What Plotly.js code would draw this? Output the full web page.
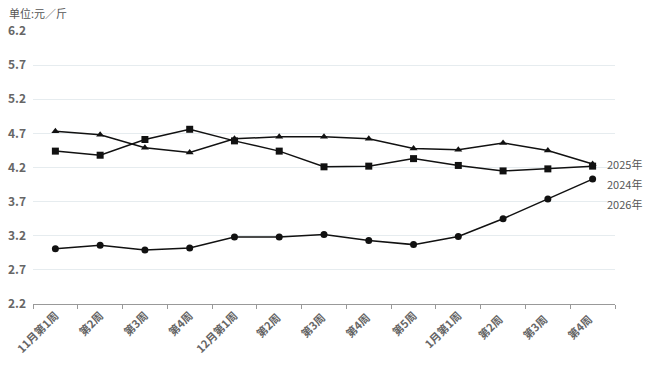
<!DOCTYPE html>
<html>
<head>
<meta charset="utf-8">
<script src="https://cdn.plot.ly/plotly-3.0.1.min.js"></script>
<style>html,body{margin:0;padding:0;background:#fff;}#chart{width:651px;height:365px;}</style>
</head>
<body>
<div id="chart"></div>
<script>
const categories = ["11月第1周","第2周","第3周","第4周","12月第1周","第2周 ","第3周 ","第4周 ","第5周","1月第1周","第2周  ","第3周  ","第4周  "];
const seriesNames = ["2025年","2024年","2026年"];
const values2025 = [4.73,4.68,4.49,4.42,4.62,4.65,4.65,4.62,4.48,4.46,4.56,4.45,4.25];
const values2024 = [4.44,4.38,4.61,4.76,4.59,4.44,4.21,4.22,4.33,4.23,4.15,4.18,4.22];
const values2026 = [3.01,3.06,2.99,3.02,3.18,3.18,3.22,3.13,3.07,3.19,3.45,3.74,4.03];
const yTicks = [2.2,2.7,3.2,3.7,4.2,4.7,5.2,5.7,6.2];

const font = "'Noto Sans CJK SC', 'Noto Sans', sans-serif";
const symbols = ["triangle-up","square","circle"];
const allValues = [values2025, values2024, values2026];

const traces = allValues.map((v,i)=>({
  type:"scatter", mode:"lines+markers", name:seriesNames[i],
  x:categories, y:v,
  line:{color:"#111", width:1.5},
  marker:{symbol:symbols[i], size:7, color:"#111"},
  hoverinfo:"skip"
}));

// end labels with simple overlap avoidance (pixel shifts)
const ppu = 273/4; // approx pixels per unit of y
const last = allValues.map((v,i)=>({i, val:v[v.length-1]}));
last.sort((a,b)=>b.val-a.val);
let prevPix = null;
const annotations = [];
last.forEach(o=>{
  let pix = -o.val*ppu;
  if(prevPix!==null && pix < prevPix+20) pix = prevPix+20;
  const shift = -(pix + o.val*ppu);
  prevPix = pix;
  annotations.push({x:categories[categories.length-1], y:o.val, xref:"x", yref:"y",
    text:seriesNames[o.i], showarrow:false, xanchor:"left", yanchor:"middle",
    xshift:12, yshift:shift, font:{family:font, size:11, color:"#555"}});
});
annotations.push({xref:"paper", yref:"paper", x:-0.045, y:1.066, xanchor:"left", yanchor:"middle",
  text:"单位:元／斤", showarrow:false, font:{family:font, size:11, color:"#555"}});

const layout = {
  width:651, height:365,
  margin:{l:33, r:36, t:31, b:61},
  paper_bgcolor:"#fff", plot_bgcolor:"#fff",
  showlegend:false,
  font:{family:font, color:"#666"},
  xaxis:{type:"category", range:[-0.5,12.5], tickson:"boundaries", ticks:"outside", ticklen:4,
    tickcolor:"#999", showline:true, linecolor:"#999", linewidth:1, showgrid:false,
    tickangle:-45, tickfont:{family:font, size:11, color:"#666", weight:"bold"}, automargin:false},
  yaxis:{range:[2.2,6.2], tickvals:yTicks, ticktext:yTicks.map(t=>t.toFixed(1)),
    showgrid:true, gridcolor:"#e6ecef", gridwidth:1, zeroline:false, showline:false,
    ticks:"", ticklabelstandoff:6, tickfont:{family:font, size:12, color:"#666", weight:"bold"}, automargin:false},
  annotations:annotations
};
Plotly.newPlot("chart", traces, layout, {displayModeBar:false, staticPlot:true});
</script>
</body>
</html>
